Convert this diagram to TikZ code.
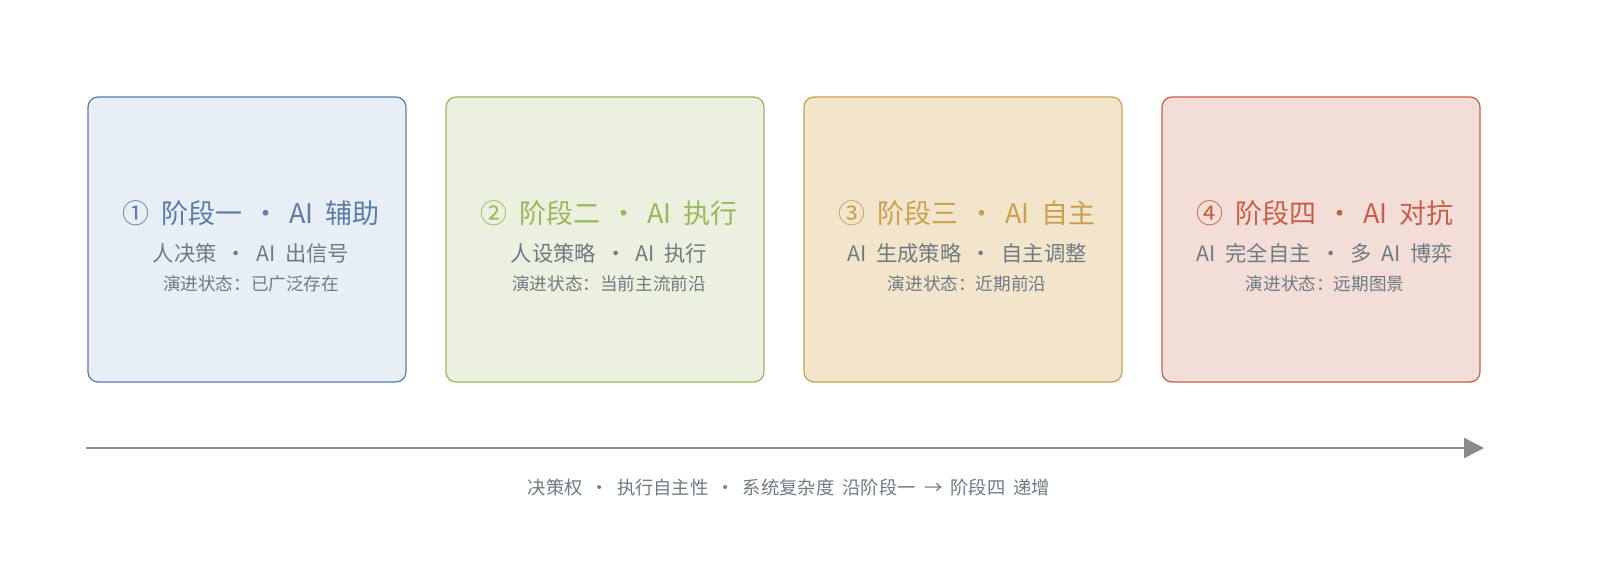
\documentclass[tikz,border=0pt]{standalone}
\usepackage{fontspec}
\setmainfont[WordSpace=2]{Noto Sans CJK SC}
\usetikzlibrary{arrows.meta}
\definecolor{bfill}{HTML}{E8EEF6}\definecolor{bdraw}{HTML}{5B7DA8}
\definecolor{gfill}{HTML}{ECF0DE}\definecolor{gdraw}{HTML}{98B85E}
\definecolor{yfill}{HTML}{F2E5CC}\definecolor{ydraw}{HTML}{C9A04E}
\definecolor{rfill}{HTML}{F3DDD7}\definecolor{rdraw}{HTML}{C65F49}
\definecolor{txtgray}{HTML}{6F7B82}
\definecolor{arrgray}{HTML}{8A8A8A}
\newcommand\dsepT{\hspace{0.36em}·\hspace{0.36em}}
\newcommand\dsep{\hspace{0.44em}·\hspace{0.44em}}
\tikzset{
  stagebox/.style={draw, line width=1.2pt, rounded corners=10pt, minimum width=318pt, minimum height=285pt, inner sep=0pt},
  titletext/.style={font=\fontsize{27}{31}\selectfont, anchor=center, inner sep=0pt},
  subtext/.style={font=\fontsize{21.3}{25}\selectfont, text=txtgray, anchor=center, inner sep=0pt},
  statetext/.style={font=\fontsize{17.6}{20}\selectfont, text=txtgray, anchor=center, inner sep=0pt},
}
\begin{document}
\begin{tikzpicture}[x=1pt,y=-1pt]
\useasboundingbox (0,0) rectangle (1600,587);
\fill[white] (0,0) rectangle (1600,587);
% boxes
\node[stagebox, fill=bfill, draw=bdraw] (b1) at (247,239.5) {};
\node[stagebox, fill=gfill, draw=gdraw] (b2) at (605,239.5) {};
\node[stagebox, fill=yfill, draw=ydraw] (b3) at (963,239.5) {};
\node[stagebox, fill=rfill, draw=rdraw] (b4) at (1321,239.5) {};
% texts
\node[titletext, text=bdraw] (t1) at (251,213) {① 阶段一\dsepT AI 辅助};
\node[subtext] (s1) at (251,253) {人决策\dsep AI 出信号};
\node[statetext] (v1) at (251,284) {演进状态：已广泛存在};
\node[titletext, text=gdraw] (t2) at (609,213) {② 阶段二\dsepT AI 执行};
\node[subtext] (s2) at (609,253) {人设策略\dsep AI 执行};
\node[statetext] (v2) at (609,284) {演进状态：当前主流前沿};
\node[titletext, text=ydraw] (t3) at (967,213) {③ 阶段三\dsepT AI 自主};
\node[subtext] (s3) at (967,253) {AI 生成策略\dsep 自主调整};
\node[statetext] (v3) at (967,284) {演进状态：近期前沿};
\node[titletext, text=rdraw] (t4) at (1325,213) {④ 阶段四\dsepT AI 对抗};
\node[subtext] (s4) at (1325,253) {AI 完全自主\dsep 多 AI 博弈};
\node[statetext] (v4) at (1325,284) {演进状态：远期图景};
% axis
\coordinate (a0) at (86,448);
\coordinate (a1) at (1484,448);
\draw[arrgray, line width=2.5pt, -{Triangle[length=20pt,width=20pt]}] (a0) -- (a1);
\node[font=\fontsize{18.3}{22}\selectfont, text=txtgray, inner sep=0pt] (cap) at (789,488) {决策权\dsep 执行自主性\dsep 系统复杂度 沿阶段一 → 阶段四 递增};
\end{tikzpicture}
\end{document}
